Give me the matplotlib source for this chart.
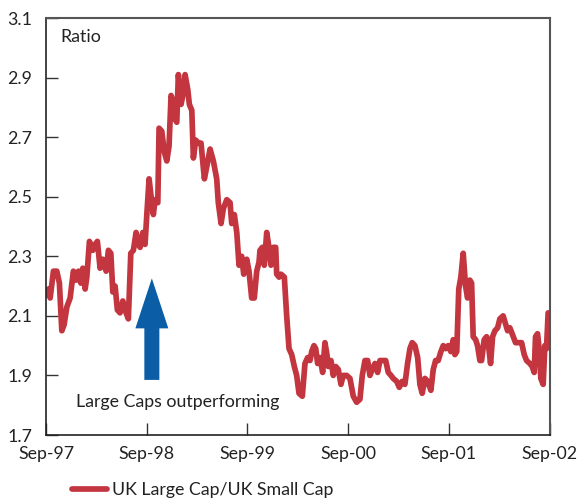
import numpy as np
import matplotlib.pyplot as plt

plt.rcParams['font.family'] = ['Lato', 'DejaVu Sans']

# Months elapsed since Sep-97 and the large/small cap ratio at each point
months = np.array([
    0.00, 0.27, 0.48, 0.87, 1.27, 1.58, 1.87, 2.14, 2.47, 2.86, 3.25, 3.57,
    3.85, 4.13, 4.37, 4.65, 4.85, 5.16, 5.56, 5.84, 6.11, 6.43, 6.75, 7.15,
    7.42, 7.71, 7.95, 8.22, 8.49, 8.81, 9.14, 9.53, 9.80, 10.09, 10.40, 10.72,
    10.99, 11.20, 11.52, 11.79, 12.00, 12.27, 12.51, 12.78, 12.98, 13.31, 13.46,
    13.78, 14.09, 14.38, 14.65, 14.89, 15.16, 15.37, 15.57, 15.76, 16.08, 16.36,
    16.56, 16.88, 17.07, 17.36, 17.55, 17.83, 18.14, 18.46, 18.86, 19.14, 19.54,
    19.93, 20.33, 20.52, 20.85, 21.12, 21.53, 21.92, 22.12, 22.43, 22.72, 22.99,
    23.31, 23.55, 23.91, 24.18, 24.50, 24.81, 25.10, 25.37, 25.49, 25.77, 26.00,
    26.29, 26.56, 26.80, 27.08, 27.36, 27.48, 27.76, 27.99, 28.39, 28.67, 28.95,
    29.27, 29.58, 29.86, 30.14, 30.53, 30.85, 31.17, 31.45, 31.65, 31.92, 32.13,
    32.36, 32.64, 32.96, 33.23, 33.47, 33.63, 33.95, 34.22, 34.51, 34.82, 35.14,
    35.41, 35.82, 36.21, 36.61, 37.01, 37.40, 37.68, 38.00, 38.32, 38.59, 38.87,
    39.19, 39.51, 39.79, 40.18, 40.47, 40.78, 41.10, 41.37, 41.78, 42.09, 42.44,
    42.76, 43.08, 43.36, 43.63, 43.96, 44.28, 44.55, 44.82, 45.15, 45.47, 45.86,
    46.14, 46.42, 46.73, 47.05, 47.33, 47.61, 47.92, 48.24, 48.52, 48.72, 48.94,
    49.18, 49.43, 49.71, 49.99, 50.23, 50.50, 50.71, 50.90, 51.19, 51.42, 51.70,
    51.90, 52.21, 52.50, 52.69, 52.97, 53.21, 53.49, 53.81, 54.08, 54.47, 54.68,
    55.00, 55.27, 55.67, 55.95, 56.26, 56.67, 56.98, 57.26, 57.65, 57.93, 58.17,
    58.33, 58.57, 58.76, 58.96, 59.24, 59.44, 59.64, 59.83,
])
ratio = np.array([
    2.17, 2.19, 2.16, 2.25, 2.25, 2.21, 2.05, 2.07, 2.13, 2.16, 2.25, 2.22,
    2.25, 2.21, 2.26, 2.19, 2.23, 2.35, 2.32, 2.34, 2.35, 2.26, 2.29, 2.25,
    2.32, 2.31, 2.18, 2.20, 2.12, 2.11, 2.15, 2.11, 2.09, 2.31, 2.32, 2.38,
    2.34, 2.33, 2.38, 2.34, 2.44, 2.56, 2.50, 2.44, 2.49, 2.48, 2.73,
    2.72, 2.65, 2.62, 2.67, 2.84, 2.82, 2.76, 2.75, 2.91, 2.81, 2.85,
    2.91, 2.86, 2.81, 2.79, 2.63, 2.69, 2.68, 2.68, 2.56, 2.60, 2.66,
    2.62, 2.56, 2.48, 2.41, 2.46, 2.49, 2.48, 2.41, 2.44, 2.38, 2.27,
    2.30, 2.24, 2.29, 2.25, 2.16, 2.16, 2.25, 2.28, 2.32, 2.33, 2.27,
    2.38, 2.33, 2.27, 2.33, 2.33, 2.24, 2.23, 2.24, 2.23, 2.10, 1.99,
    1.97, 1.93, 1.90, 1.84, 1.83, 1.94, 1.96, 1.95, 1.98, 2.00, 1.99,
    1.94, 1.96, 1.91, 2.01, 1.97, 1.93, 1.95, 1.90, 1.93, 1.92, 1.87,
    1.90, 1.90, 1.89, 1.83, 1.81, 1.82, 1.90, 1.95, 1.95, 1.90, 1.92,
    1.94, 1.91, 1.95, 1.95, 1.95, 1.91, 1.90, 1.89, 1.88, 1.86, 1.88,
    1.87, 1.94, 1.99, 2.01, 2.00, 1.96, 1.87, 1.84, 1.89, 1.88, 1.85,
    1.92, 1.95, 1.95, 1.98, 2.00, 1.99, 2.00, 1.98, 2.02, 1.97, 1.98,
    2.19, 2.23, 2.31, 2.20, 2.16, 2.22, 2.21, 2.03, 2.02, 2.00, 1.95,
    1.95, 2.02, 2.03, 2.01, 1.94, 2.03, 2.05, 2.06, 2.09, 2.10, 2.08,
    2.05, 2.06, 2.03, 2.01, 2.01, 2.01, 1.97, 1.95, 1.94, 1.93, 1.91,
    2.03, 2.04, 1.99, 1.89, 1.87, 2.00, 1.99, 2.11,
])

tick_months = [0, 12, 24, 36, 48, 60]
tick_labels = ['Sep-97', 'Sep-98', 'Sep-99', 'Sep-00', 'Sep-01', 'Sep-02']
y_ticks = [1.7, 1.9, 2.1, 2.3, 2.5, 2.7, 2.9, 3.1]

red = '#C3353F'
blue = '#0B5EA6'
fs = 12.8

fig = plt.figure(figsize=(5.84, 5.0), dpi=100)
ax = fig.add_axes([0.079, 0.130, 0.862, 0.834])

ax.plot(months, ratio, color=red, lw=4.1, solid_joinstyle='round',
        solid_capstyle='round', label='UK Large Cap/UK Small Cap')

# arrow pointing up with the caption beneath it
ax.arrow(12.6, 1.885, 0, 0.341, width=1.79, head_width=3.93,
         head_length=0.168, length_includes_head=True,
         color=blue, ec='none')
ax.text(15.7, 1.81, 'Large Caps outperforming', ha='center', va='center',
        fontsize=fs, color='#222222')
ax.text(1.75, 3.035, 'Ratio', ha='left', va='center', fontsize=fs,
        color='#222222')

ax.set_xlim(0, 60)
ax.set_ylim(1.7, 3.1)
ax.set_xticks(tick_months)
ax.set_xticklabels(tick_labels)
ax.set_yticks(y_ticks)
ax.set_yticklabels([f'{v:.1f}' for v in y_ticks])
ax.tick_params(axis='both', direction='in', length=8.5, width=1.0,
               color='#333333', labelsize=fs, labelcolor='#222222')
ax.tick_params(axis='y', pad=10)
ax.tick_params(axis='x', pad=8)

for side in ['left', 'bottom']:
    ax.spines[side].set_color('#222222')
    ax.spines[side].set_linewidth(1.2)
for side in ['top', 'right']:
    ax.spines[side].set_color('#555555')
    ax.spines[side].set_linewidth(1.5)

fig.legend(loc='center left', bbox_to_anchor=(0.123, 0.02), frameon=False,
           fontsize=fs, handlelength=2.0, handletextpad=0.28,
           borderpad=0, borderaxespad=0, labelcolor='#222222')

fig.savefig('out.png', dpi=100)
